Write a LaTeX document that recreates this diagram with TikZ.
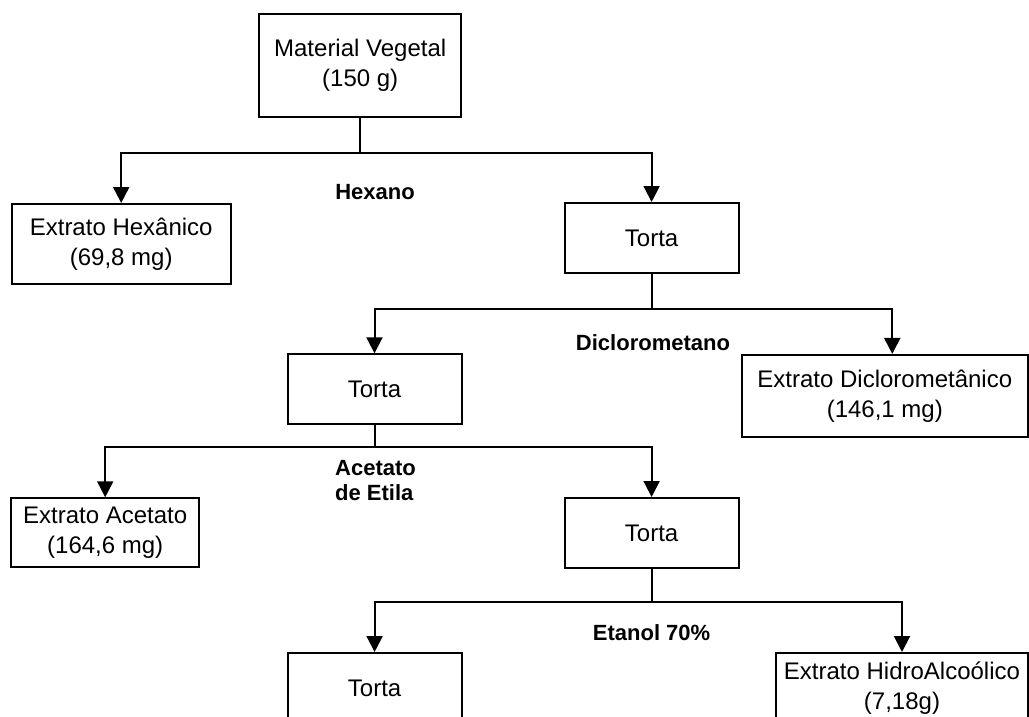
\documentclass[tikz,border=0pt]{standalone}
\usepackage{fontspec}
\setmainfont{Liberation Sans}
\usetikzlibrary{arrows.meta,positioning}

\begin{document}
\begin{tikzpicture}[x=0.75pt,y=-0.75pt,
  bx/.style={rectangle,draw,line width=1.5pt,align=center,inner sep=0pt,font=\fontsize{18}{22.5}\selectfont},
  torta/.style={bx,minimum width=130.5pt,minimum height=52.5pt},
  solv/.style={align=left,inner sep=0pt,font=\bfseries\fontsize{16.5}{18.75}\selectfont},
  ln/.style={line width=1.5pt},
  arr/.style={-{Triangle[length=12pt,width=12pt]},line width=1.5pt}
]
\clip (0,0) rectangle (1029,717);
\fill[white] (0,0) rectangle (1029,717);
\node[bx,minimum width=151.3pt,minimum height=77.5pt] (mat) at (360.2,65.7) {Material Vegetal\\(150 g)};
\node[bx,minimum width=164.3pt,minimum height=60pt] (hex) at (121.2,244) {Extrato Hexânico\\(69,8 mg)};
\node[torta] (t1) at (651.6,238) {Torta};
\node[torta] (t2) at (374.5,389.3) {Torta};
\node[bx,minimum width=214.7pt,minimum height=61.3pt] (dcm) at (884.8,395.8) {Extrato Diclorometânico\\(146,1 mg)};
\node[bx,minimum width=141.2pt,minimum height=51.8pt] (ace) at (105.2,532.8) {Extrato Acetato\\(164,6 mg)};
\node[torta] (t3) at (651.6,533) {Torta};
\node[torta] (t4) at (374.6,688) {Torta};
\node[bx,minimum width=189pt,minimum height=52.5pt] (hid) at (902,688) {Extrato HidroAlcoólico\\(7,18g)};
% solventes
\node[solv] (lhex) at (375,191.7) {Hexano};
\node[solv] (ldcm) at (653,342.3) {Diclorometano};
\node[solv] (lace) at (375.5,480.8) {Acetato\\de Etila};
\node[solv] (leta) at (651.6,633) {Etanol 70\%};
% ligacoes
\draw[ln] (mat.south) -- ++(0,34.4) coordinate (j1);
\draw[arr] (j1) -| (hex.north); \draw[arr] (j1) -| (t1.north);
\draw[ln] (t1.south) -- ++(0,34.6) coordinate (j2);
\draw[arr] (j2) -| (t2.north); \draw[arr] (j2) -| ([xshift=5.6pt]dcm.north);
\draw[ln] (t2.south) -- ++(0,21.7) coordinate (j3);
\draw[arr] (j3) -| (ace.north); \draw[arr] (j3) -| (t3.north);
\draw[ln] (t3.south) -- ++(0,32.7) coordinate (j4);
\draw[arr] (j4) -| (t4.north); \draw[arr] (j4) -| (hid.north);
\end{tikzpicture}
\end{document}
